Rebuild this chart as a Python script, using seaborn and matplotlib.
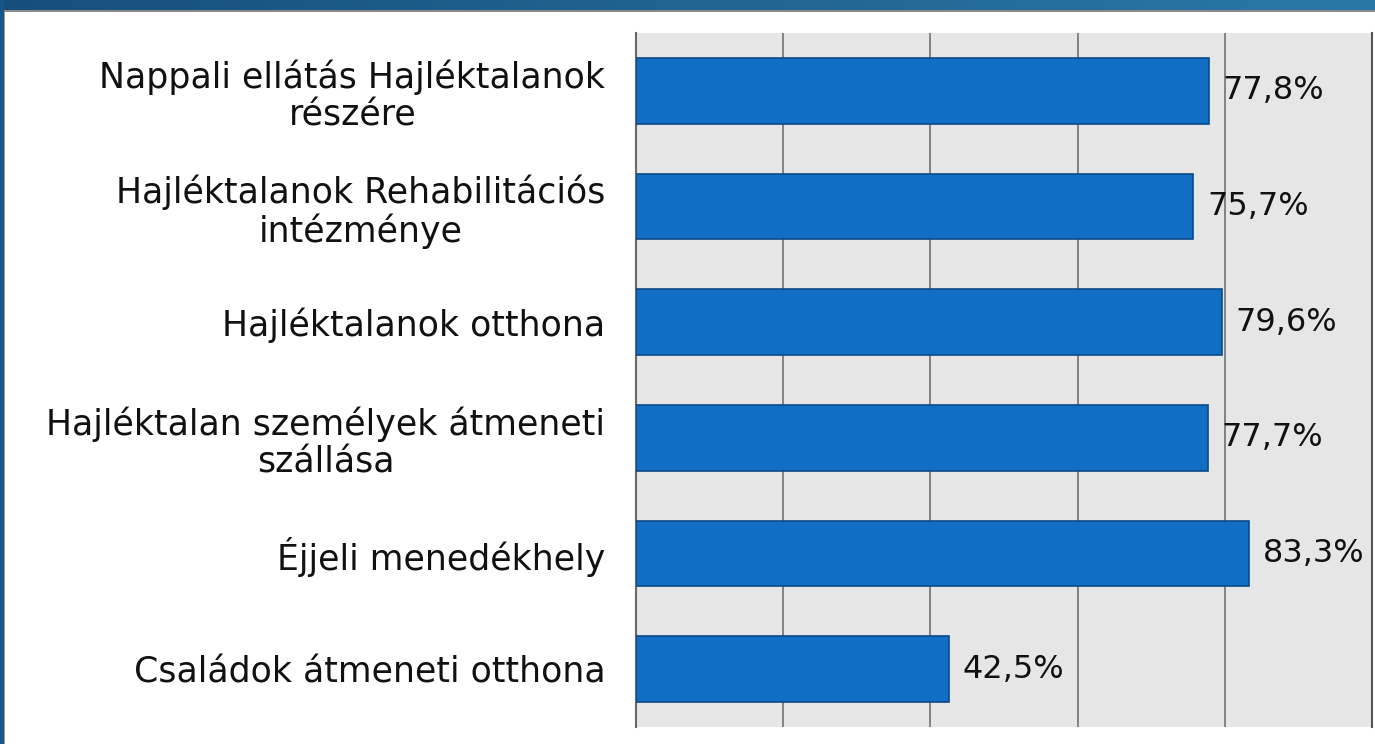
import numpy as np
import pandas as pd
import matplotlib
matplotlib.use("Agg")
import matplotlib.pyplot as plt
import seaborn as sns
from matplotlib.patches import Rectangle

categories = [
    "Nappali ellátás Hajléktalanok\nrészére",
    "Hajléktalanok Rehabilitációs\nintézménye",
    "Hajléktalanok otthona",
    "Hajléktalan személyek átmeneti\nszállása",
    "Éjjeli menedékhely",
    "Családok átmeneti otthona",
]
values = [77.8, 75.7, 79.6, 77.7, 83.3, 42.5]
value_labels = ["77,8%", "75,7%", "79,6%", "77,7%", "83,3%", "42,5%"]
x_ticks = [0, 20, 40, 60, 80, 100]

sns.set_theme(style="white")
plt.rcParams['font.family'] = ['DejaVu Sans']

df = pd.DataFrame({"cat": categories, "val": values})

W, H = 1375, 744
fig = plt.figure(figsize=(W / 100, H / 100), dpi=100)
fig.patch.set_facecolor("white")

# frame: gradient top band and left strip
grad = np.linspace(0, 1, W)
c0 = np.array([0x17, 0x4f, 0x7c]) / 255
c1 = np.array([0x2a, 0x78, 0xa6]) / 255
band = (c0[None, :] * (1 - grad[:, None]) + c1[None, :] * grad[:, None])
top = np.repeat(band[None, :, :], 10, axis=0)
fig.figimage(top, xo=0, yo=H - 10, origin="upper", zorder=1)
left = np.tile(c0 * 1.1, (H, 4, 1)).clip(0, 1)
fig.figimage(left, xo=0, yo=0, origin="upper", zorder=1)
fig.add_artist(Rectangle((4 / W, 0), 1.2 / W, (H - 10) / H, transform=fig.transFigure,
                         facecolor="#9a9a9a", edgecolor="none", zorder=2))
fig.add_artist(Rectangle((4 / W, (H - 12) / H), 1 - 4 / W, 2 / H, transform=fig.transFigure,
                         facecolor="#8a8a8a", edgecolor="none", zorder=2))

ax = fig.add_axes([636 / W, 1 - 727 / H, (1372 - 636) / W, (727 - 33) / H])
ax.set_facecolor("#e6e6e6")

sns.barplot(data=df, y="cat", x="val", orient="h", color="#106ec4",
            saturation=1, width=0.57, edgecolor="#0b4a86", linewidth=1.2, ax=ax, zorder=3)

ax.set_xlim(0, 100)
ax.set_xticks(x_ticks)
ax.set_xticklabels([])
ax.xaxis.grid(True, color="#7a7a7a", linewidth=1.3, zorder=0)
ax.set_axisbelow(True)
ax.tick_params(axis="both", length=0)
ax.tick_params(axis="y", pad=22, labelsize=25, labelcolor="#111111")
for lbl in ax.get_yticklabels():
    lbl.set_multialignment("center")
    lbl.set_linespacing(1.12)
ax.set_xlabel("")
ax.set_ylabel("")
for s in ["top", "bottom"]:
    ax.spines[s].set_visible(False)
ax.spines["left"].set_color("#6a6a6a")
ax.spines["left"].set_linewidth(1.5)
ax.spines["right"].set_color("#555555")
ax.spines["right"].set_linewidth(1.5)

for i, (v, t) in enumerate(zip(values, value_labels)):
    ax.annotate(t, xy=(v, i), xytext=(10, 0), textcoords="offset points",
                va="center", ha="left", fontsize=23, color="#111111", zorder=5)

fig.savefig("out.png", dpi=100)
